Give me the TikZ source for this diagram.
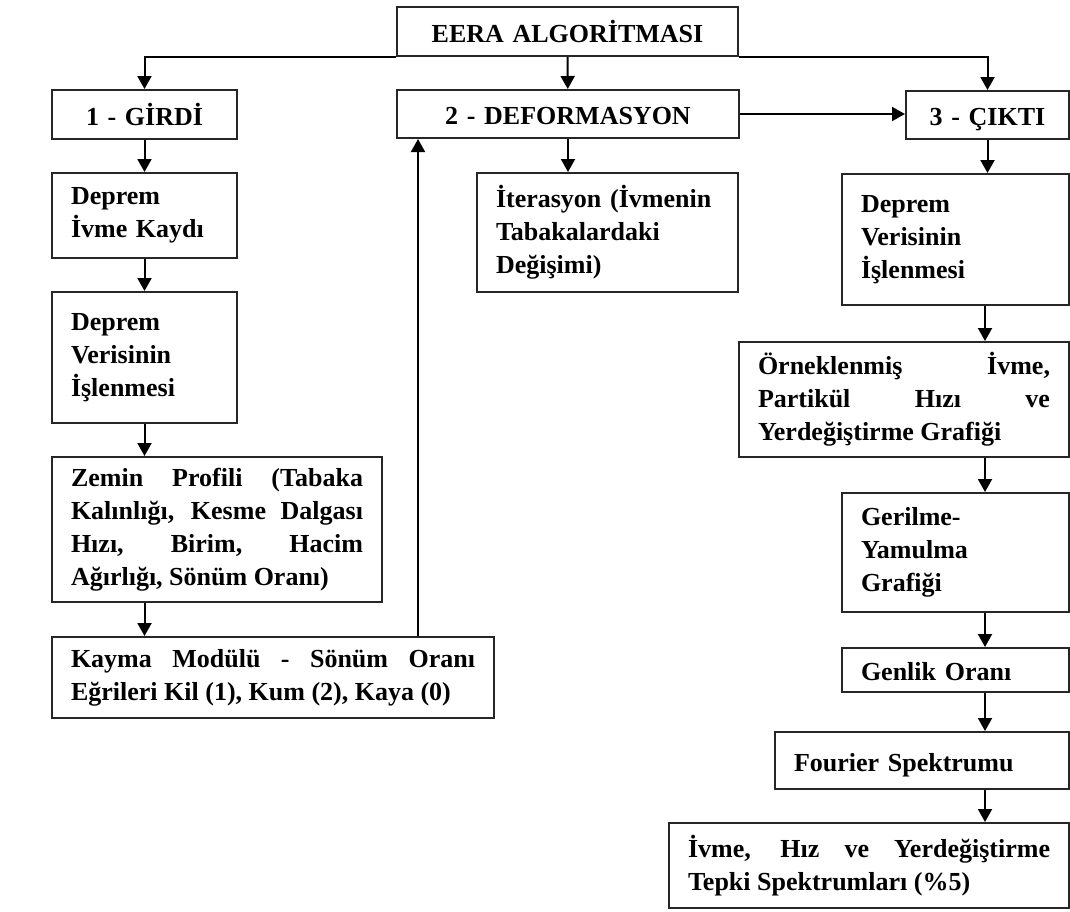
\documentclass[tikz,border=0pt]{standalone}
\usepackage{fontspec}
\setmainfont{Liberation Serif}
\usetikzlibrary{arrows.meta}

\begin{document}
\begin{tikzpicture}[x=1pt,y=-1pt,->,>={Triangle[length=13pt,width=14pt]},line width=2pt,
  every node/.style={font=\fontsize{26}{33}\selectfont\bfseries},
  kutu/.style={draw=black!85,rectangle,inner xsep=19pt,inner ysep=3pt,align=left},
  tek/.style={kutu,text height=21pt,text depth=0pt},
  orta/.style={tek,align=center},
  duz/.style={kutu,align=justify}]
\useasboundingbox (0,0) rectangle (1070,911);
\node[orta,text width=303pt,minimum height=49pt] (eera) at (567.5,31.5) {EERA ALGOR\.{I}TMASI};
\node[orta,text width=147pt,minimum height=49pt] (girdi) at (144.5,114.5) {1 - G\.{I}RD\.{I}};
\node[orta,text width=304pt,minimum height=48pt] (deform) at (568,114) {2 - DEFORMASYON};
\node[orta,text width=125pt,minimum height=48pt] (cikti) at (987.5,115) {3 - ÇIKTI};
% girdi kolonu
\node[kutu,text width=147pt,minimum height=85pt] (ivme) at (144.5,215.5) {Deprem\\İvme Kaydı};
\node[kutu,text width=147pt,minimum height=131pt] (veri1) at (144.5,357.5) {Deprem\\Verisinin\\İşlenmesi};
\node[duz,text width=292pt,minimum height=145pt] (zemin) at (217,529.5) {Zemin Profili (Tabaka\linebreak Kalınlığı, Kesme Dalgası\linebreak Hızı, Birim, Hacim\linebreak Ağırlığı, Sönüm Oranı)};
\node[duz,text width=404pt,minimum height=81pt] (kayma) at (273,677.5) {Kayma Modülü - Sönüm Oranı\linebreak Eğrileri Kil (1), Kum (2), Kaya (0)};
% deformasyon
\node[kutu,text width=223pt,minimum height=119pt] (iter) at (607.5,232.5) {İterasyon (İvmenin\\Tabakalardaki\\Değişimi)};
% cikti kolonu
\node[kutu,text width=189pt,minimum height=131pt] (veri2) at (955.5,239.5) {Deprem\\Verisinin\\İşlenmesi};
\node[duz,text width=292pt,minimum height=115pt] (ornek) at (904,399.5) {Örneklenmiş İvme,\linebreak Partikül Hızı ve\linebreak Yerdeğiştirme Grafiği};
\node[kutu,text width=189pt,minimum height=119pt] (geril) at (955.5,552.5) {Gerilme-\\Yamulma\\Grafiği};
\node[tek,text width=189pt,minimum height=44pt] (genlik) at (955.5,670) {Genlik Oranı};
\node[tek,text width=256pt,minimum height=57pt] (fourier) at (922,760.5) {Fourier Spektrumu};
\node[duz,text width=362pt,minimum height=85pt] (tepki) at (869,865.5) {İvme, Hız ve Yerdeğiştirme\linebreak Tepki Spektrumları (\%5)};
\coordinate (geri) at (418,0);
\coordinate (sag) at (985,0);

\draw (eera.south) -- (deform);
\draw (eera.south west) -| (girdi);
\draw (eera.south east) -| (cikti);
\draw (deform.east) -- (deform.east -| cikti.west);
\draw (girdi) -- (ivme);
\draw (ivme) -- (veri1);
\draw (veri1.south) -- (veri1.south |- zemin.north);
\draw (zemin.south -| veri1) -- (kayma.north -| veri1);
\draw (kayma.north -| geri) -- (deform.south -| geri);
\draw (deform.south) -- (deform.south |- iter.north);
\draw (cikti.south) -- (cikti.south |- veri2.north);
\draw (veri2.south -| sag) -- (ornek.north -| sag);
\draw (ornek.south -| sag) -- (geril.north -| sag);
\draw (geril.south -| sag) -- (genlik.north -| sag);
\draw (genlik.south -| sag) -- (fourier.north -| sag);
\draw (fourier.south -| sag) -- (tepki.north -| sag);
\end{tikzpicture}
\end{document}
